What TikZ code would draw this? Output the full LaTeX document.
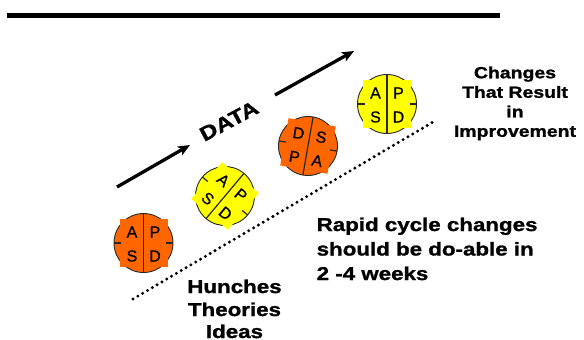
\documentclass[tikz,border=0pt]{standalone}
\usepackage{fontspec}
\setmainfont{Liberation Sans}
\newfontfamily\widef[FakeStretch=1.2, FakeBold=1.3]{Liberation Sans Bold}
\newfontfamily\letterf[FakeBold=0.6]{Liberation Sans}
\usetikzlibrary{arrows.meta}
\definecolor{pdsaorange}{RGB}{255,102,0}
\definecolor{pdsayellow}{RGB}{255,255,0}
\definecolor{wheelline}{RGB}{40,40,40}
\tikzset{
  letter/.style={font=\letterf\fontsize{16}{16}\selectfont, inner sep=0pt, transform shape},
  divline/.style={draw=wheelline, line width=1.2pt},
  bigtext/.style={font=\widef\fontsize{18.6}{18.6}\selectfont, inner sep=0pt},
  midtext/.style={font=\widef\fontsize{16.2}{16.2}\selectfont, inner sep=0pt},
  dataarrow/.style={line width=3.3pt, -{Stealth[length=12pt,width=10pt,inset=3pt]}},
  pics/wheel/.style n args={5}{code={
    \fill[#1, draw=wheelline, line width=0.9pt] (0,0) circle (29.5pt);
    \fill[#1] (-24,-24) rectangle (24,24);
    \draw[divline] (0,-29.5) -- (0,29.5);
    \draw[divline] (-29.5,0) -- (-22.5,0);
    \draw[divline] (22.5,0) -- (29.5,0);
    \node[letter] (-tl) at (-11.5,-11) {#2};
    \node[letter] (-tr) at (11.5,-11) {#3};
    \node[letter] (-bl) at (-11.5,13) {#4};
    \node[letter] (-br) at (11.5,13) {#5};
  }}
}
\begin{document}
\begin{tikzpicture}[x=1pt,y=-1pt]
\useasboundingbox[fill=white] (0,0) rectangle (584,340);
% top bar
\coordinate (b1) at (7,15.5);
\coordinate (b2) at (500,15.5);
\draw[line width=5.6pt] (b1) -- (b2);
% dotted line
\coordinate (d1) at (133,299);
\coordinate (d2) at (433,122);
\draw[line width=3.3pt, line cap=round, dash pattern=on 0pt off 5.6pt] (d1) -- (d2);
% arrows and DATA
\coordinate (a1s) at (117,187);
\coordinate (a1e) at (190,145);
\draw[dataarrow] (a1s) -- (a1e);
\coordinate (a2s) at (275,95);
\coordinate (a2e) at (354,51);
\draw[dataarrow] (a2s) -- (a2e);
\node[font=\widef\fontsize{20}{20}\selectfont, rotate=28, inner sep=0pt] (data) at (229,121) {DATA};
% wheels
\pic (w1) at (143.5,243) {wheel={pdsaorange}{A}{P}{S}{D}};
\pic[rotate=-40] (w2) at (225,196) {wheel={pdsayellow}{A}{P}{S}{D}};
\pic[rotate=-10] (w3) at (308,146) {wheel={pdsaorange}{D}{S}{P}{A}};
\pic (w4) at (387,104) {wheel={pdsayellow}{A}{P}{S}{D}};
% texts
\node[midtext, anchor=base] (c1) at (515,78.3) {Changes};
\node[midtext, anchor=base] (c2) at (515,97.8) {That Result};
\node[midtext, anchor=base] (c3) at (515,117.3) {in};
\node[midtext, anchor=base] (c4) at (515,136.8) {Improvement};
\node[bigtext, anchor=base west] (r1) at (316.5,231) {Rapid cycle changes};
\node[bigtext, anchor=base west] (r2) at (316.5,255.5) {should be do-able in};
\node[bigtext, anchor=base west] (r3) at (316.5,280) {2 -4 weeks};
\node[bigtext, anchor=base] (h1) at (234.5,293) {Hunches};
\node[bigtext, anchor=base] (h2) at (234.5,316) {Theories};
\node[bigtext, anchor=base] (h3) at (234.5,338) {Ideas};
\end{tikzpicture}
\end{document}
